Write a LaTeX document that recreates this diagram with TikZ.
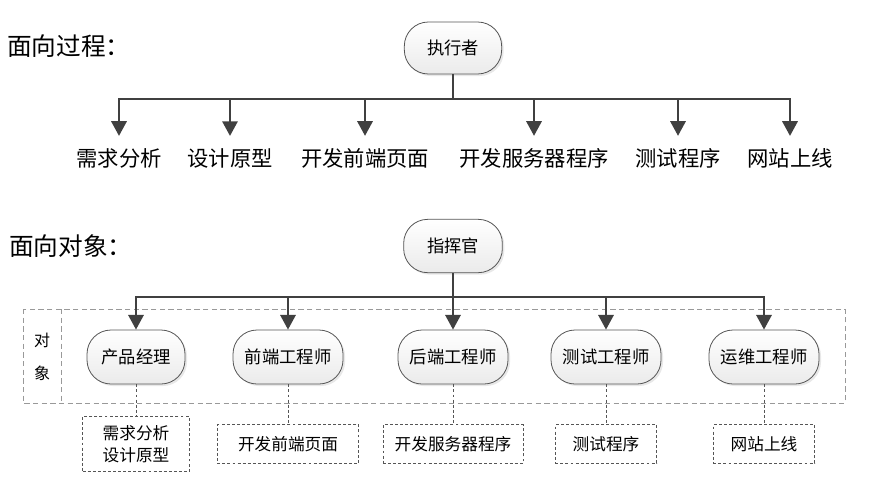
\documentclass[tikz,border=0pt]{standalone}
\usepackage{fontspec}
\setmainfont{Noto Sans CJK SC}
\usetikzlibrary{arrows.meta,shadows}

\definecolor{linegray}{HTML}{404040}
\definecolor{boxgray}{HTML}{555555}

\begin{document}
\begin{tikzpicture}[x=0.75pt,y=-0.75pt,
    actor/.style={draw=boxgray, line width=0.6pt, rounded corners=18pt,
      top color=white, bottom color=gray!16, inner sep=0pt,
      drop shadow={opacity=0.18, shadow xshift=1.5pt, shadow yshift=-1.5pt},
      font=\fontsize{13}{15}\selectfont},
    tasklabel/.style={inner sep=0pt, font=\fontsize{16}{18}\selectfont},
    headline/.style={inner sep=0pt, anchor=west, font=\fontsize{18.5}{20}\selectfont},
    taskbox/.style={draw=boxgray, dashed, dash pattern=on 2.2pt off 1.6pt,
      line width=0.6pt, inner sep=0pt, align=center,
      font=\fontsize{12.5}{16.5}\selectfont},
    flow/.style={draw=linegray, line width=1.6pt,
      -{Triangle[width=11.5pt,length=11pt]}},
    link/.style={draw=boxgray, line width=0.6pt, dashed,
      dash pattern=on 2.2pt off 1.6pt},
    frame/.style={draw=gray!80, line width=0.6pt, dashed,
      dash pattern=on 4pt off 2.5pt}]
  \useasboundingbox (0,0) rectangle (878,479);

  % draw procedure part
  \node[headline] (head1) at (7,46) {面向过程：};
  \node[actor, minimum width=73pt, minimum height=39pt] (exe) at (453,48) {执行者};
  \coordinate (bus1) at (453,99);
  \foreach \name/\x/\txt in {p1/119/需求分析, p2/230/设计原型, p3/365/开发前端页面,
      p4/534/开发服务器程序, p5/678/测试程序, p6/790/网站上线}
    \node[tasklabel] (\name) at (\x,158) {\txt};
  \foreach \name in {p1,p2,p3,p4,p5,p6}
    \draw[flow, shorten >=9pt] (exe.south) -- (bus1) -| (\name.north);

  % draw object part
  \node[headline] (head2) at (9,246) {面向对象：};
  \node[actor, minimum width=74pt, minimum height=40pt] (boss) at (453,246) {指挥官};
  \coordinate (bus2) at (453,297);

  % frame round the objects
  \draw[frame] (23,309) rectangle (845,403);
  \draw[frame] (61,309) -- (61,403);
  \node[inner sep=0pt, font=\fontsize{12}{14}\selectfont] (obj1) at (42,340) {对};
  \node[inner sep=0pt, font=\fontsize{12}{14}\selectfont] (obj2) at (42,373) {象};

  % draw roles
  \foreach \name/\x/\w/\txt in {r1/136/73.5pt/产品经理, r2/288/82.5pt/前端工程师,
      r3/453/82.5pt/后端工程师, r4/606/82.5pt/测试工程师, r5/764/82.5pt/运维工程师}
    \node[actor, minimum width=\w, minimum height=40.5pt] (\name) at (\x,357) {\txt};
  \foreach \name in {r1,r2,r3,r4,r5}
    \draw[flow] (boss.south) -- (bus2) -| (\name.north);

  % draw jobs
  \node[taskbox, minimum width=80pt, minimum height=41pt] (t1) at (136,444) {需求分析\\设计原型};
  \foreach \name/\x/\w/\txt in {t2/288/106pt/开发前端页面, t3/453/105pt/开发服务器程序,
      t4/606/76pt/测试程序, t5/764/76pt/网站上线}
    \node[taskbox, minimum width=\w, minimum height=29pt] (\name) at (\x,444) {\txt};
  \foreach \i in {1,...,5}
    \draw[link] (r\i.south) -- (t\i.north);
\end{tikzpicture}
\end{document}
